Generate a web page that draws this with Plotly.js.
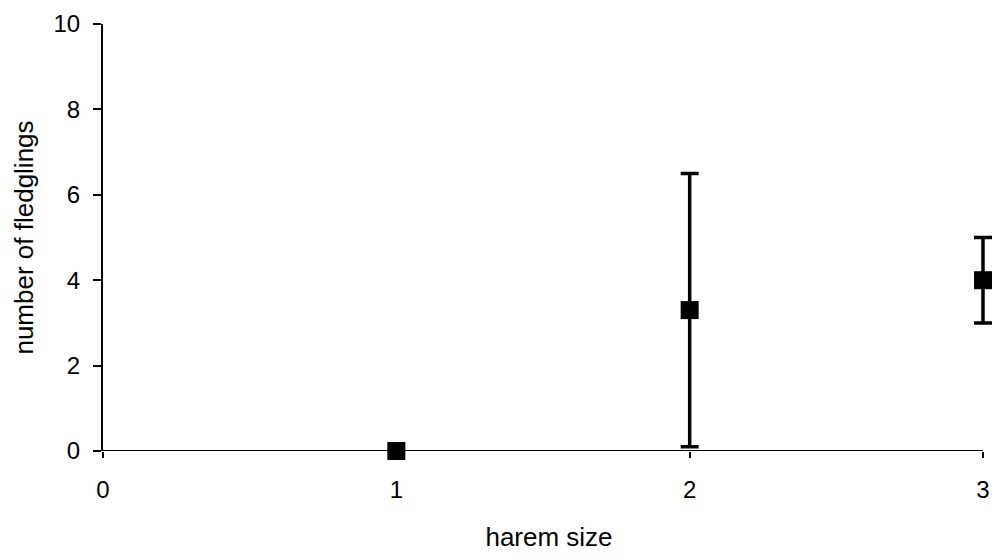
<!DOCTYPE html>
<html><head><meta charset="utf-8">
<script src="https://cdn.plot.ly/plotly-3.0.1.min.js"></script>
<style>body{margin:0;background:#fff}#c{width:1000px;height:557px}</style>
</head><body><div id="c"></div>
<script>
const haremSize = [1, 2, 3];
const fledglings = [0, 3.3, 4];
const errPlus = [0, 3.2, 1];
const errMinus = [0, 3.2, 1];
const xTicks = [0, 1, 2, 3];
const yTicks = [0, 2, 4, 6, 8, 10];
const xMax = 3;

const trace = {
  x: haremSize, y: fledglings, type: 'scatter', mode: 'markers',
  marker: {symbol: 'square', size: 18, color: '#000'},
  error_y: {type: 'data', symmetric: false, array: errPlus, arrayminus: errMinus,
            color: '#000', thickness: 3.5, width: 9},
  cliponaxis: false, showlegend: false
};
const fam = 'Liberation Sans, Arial, sans-serif';
const tickFont = {family: fam, size: 24, color: '#000'};
const titleFont = {family: fam, size: 26, color: '#000'};
const layout = {
  width: 1000, height: 557,
  margin: {l: 103, r: 5, t: 24, b: 106},
  paper_bgcolor: '#fff', plot_bgcolor: '#fff',
  font: tickFont,
  xaxis: {range: [0, xMax + 12 / 293.33], tickvals: xTicks, ticktext: xTicks.map(String),
          tickfont: tickFont,
          showgrid: false, zeroline: false, showline: false,
          ticks: 'outside', ticklen: 6, tickwidth: 2, tickcolor: '#000', ticklabelstandoff: 11,
          title: {text: 'harem size', font: titleFont, standoff: 26}},
  yaxis: {range: [0, 10], tickvals: yTicks, ticktext: yTicks.map(String),
          tickfont: tickFont,
          showgrid: false, zeroline: false, showline: true, linecolor: '#000', linewidth: 2,
          ticks: 'outside', ticklen: 8, tickwidth: 2, tickcolor: '#000', ticklabelstandoff: 8,
          title: {text: 'number of fledglings', font: titleFont, standoff: 12}},
  shapes: [{type: 'line', xref: 'x', yref: 'y', x0: 0, x1: xMax, y0: 0, y1: 0,
            line: {color: '#000', width: 2}, layer: 'below'}]
};
Plotly.newPlot('c', [trace], layout, {displayModeBar: false, staticPlot: true});
</script></body></html>
